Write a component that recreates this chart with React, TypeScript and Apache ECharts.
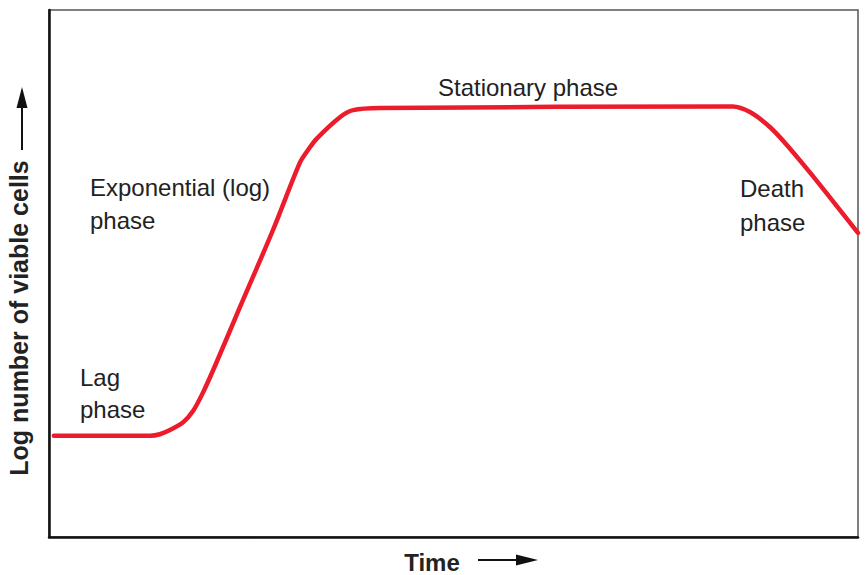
import React, { useEffect, useRef } from "react";
import * as echarts from "echarts";

// Time (arbitrary units, 0..100) and log number of viable cells (arbitrary units, 0..100)
const timePoints = [0.6, 12.5, 13.7, 15.2, 16.6, 17.8, 19.0, 20.5, 23.6, 27.7, 31.0, 32.0, 33.1, 36.0, 37.6, 40.9, 84.5, 86.7, 89.1, 91.2, 94.1, 96.5, 100];
const logCells = [19.2, 19.2, 19.5, 20.5, 21.8, 23.9, 27.3, 32.4, 43.6, 58.3, 71.0, 73.4, 75.6, 79.7, 81.0, 81.4, 81.7, 80.6, 77.8, 74.4, 69.1, 64.5, 57.7];

const phaseLabels = [
  { text: "Stationary phase", x: 438, y: 87 },
  { text: "Exponential (log)", x: 90, y: 187 },
  { text: "phase", x: 90, y: 220 },
  { text: "Lag", x: 80, y: 377 },
  { text: "phase", x: 80, y: 409 },
  { text: "Death", x: 740, y: 188 },
  { text: "phase", x: 740, y: 222 },
];

export default function App() {
  const ref = useRef<HTMLDivElement>(null);
  useEffect(() => {
    document.body.style.margin = "0";
    const chart = echarts.init(ref.current!, null, { renderer: "svg" });
    const textColor = "#222";
    const font = "Liberation Sans, Arial, Helvetica, sans-serif";
    chart.setOption({
      animation: false,
      backgroundColor: "#ffffff",
      grid: {
        left: 49,
        right: 8,
        top: 10,
        bottom: 38,
        show: true,
        borderColor: "#555",
        borderWidth: 1.5,
        backgroundColor: "transparent",
      },
      xAxis: {
        type: "value",
        min: 0,
        max: 100,
        axisLine: { show: true, onZero: false, lineStyle: { color: "#111", width: 2.5 } },
        axisTick: { show: false },
        axisLabel: { show: false },
        splitLine: { show: false },
      },
      yAxis: {
        type: "value",
        min: 0,
        max: 100,
        axisLine: { show: true, onZero: false, lineStyle: { color: "#111", width: 2.5 } },
        axisTick: { show: false },
        axisLabel: { show: false },
        splitLine: { show: false },
      },
      series: [
        {
          type: "line",
          data: timePoints.map((t, i) => [t, logCells[i]]),
          smooth: 0.3,
          showSymbol: false,
          symbol: "none",
          lineStyle: { color: "#ec1c2c", width: 4.5, cap: "round", join: "round" },
          clip: true,
        },
      ],
      graphic: [
        ...phaseLabels.map((l) => ({
          type: "text",
          x: l.x,
          y: l.y,
          style: {
            text: l.text,
            fill: textColor,
            font: `24px ${font}`,
            verticalAlign: "middle",
          },
        })),
        // Y-axis title, rotated
        {
          type: "text",
          x: 19,
          y: 318,
          rotation: Math.PI / 2,
          style: {
            text: "Log number of viable cells",
            fill: textColor,
            font: `bold 25px ${font}`,
            align: "center",
            verticalAlign: "middle",
          },
        },
        // Y arrow
        { type: "line", shape: { x1: 22, y1: 150, x2: 22, y2: 102 }, style: { stroke: "#111", lineWidth: 2 } },
        { type: "polygon", shape: { points: [[22, 87], [16.5, 108], [27.5, 108]] }, style: { fill: "#111" } },
        // X-axis title
        {
          type: "text",
          x: 432,
          y: 562,
          style: {
            text: "Time",
            fill: textColor,
            font: `bold 24px ${font}`,
            align: "center",
            verticalAlign: "middle",
          },
        },
        { type: "line", shape: { x1: 478, y1: 560, x2: 520, y2: 560 }, style: { stroke: "#111", lineWidth: 2 } },
        { type: "polygon", shape: { points: [[538, 560], [516, 554.5], [516, 565.5]] }, style: { fill: "#111" } },
      ],
    });
    return () => chart.dispose();
  }, []);
  return <div ref={ref} style={{ width: 866, height: 575 }} />;
}
